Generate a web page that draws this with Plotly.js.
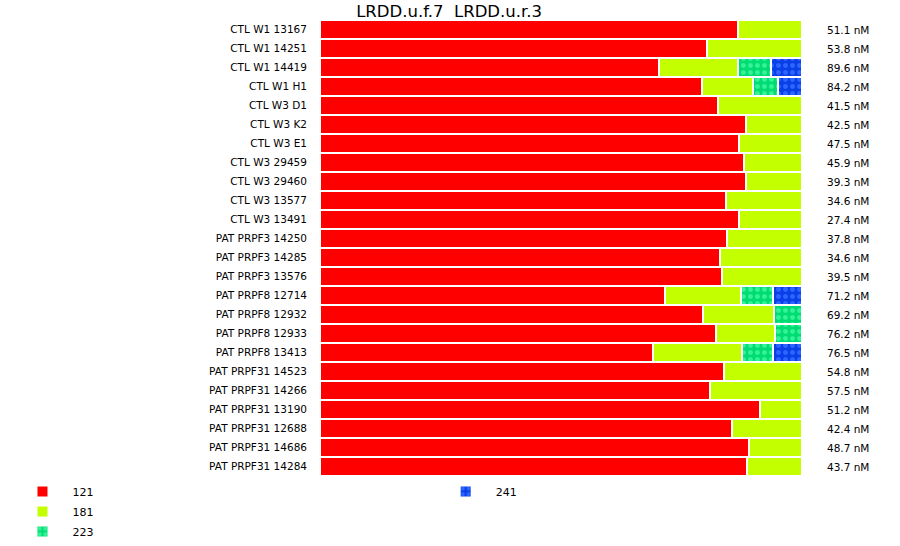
<!DOCTYPE html>
<html>
<head>
<meta charset="utf-8">
<script src="https://cdn.plot.ly/plotly-3.0.1.min.js"></script>
<style>html,body{margin:0;padding:0;background:#fff;}#chart{width:900px;height:546px;}</style>
</head>
<body>
<div id="chart"></div>
<script>
// Sample names (top to bottom)
const samples = [
  "CTL W1 13167", "CTL W1 14251", "CTL W1 14419", "CTL W1 H1", "CTL W3 D1", "CTL W3 K2",
  "CTL W3 E1", "CTL W3 29459", "CTL W3 29460", "CTL W3 13577", "CTL W3 13491",
  "PAT PRPF3 14250", "PAT PRPF3 14285", "PAT PRPF3 13576",
  "PAT PRPF8 12714", "PAT PRPF8 12932", "PAT PRPF8 12933", "PAT PRPF8 13413",
  "PAT PRPF31 14523", "PAT PRPF31 14266", "PAT PRPF31 13190", "PAT PRPF31 12688",
  "PAT PRPF31 14686", "PAT PRPF31 14284"
];
// Concentration labels (right side)
const concentrations = [
  "51.1 nM", "53.8 nM", "89.6 nM", "84.2 nM", "41.5 nM", "42.5 nM",
  "47.5 nM", "45.9 nM", "39.3 nM", "34.6 nM", "27.4 nM",
  "37.8 nM", "34.6 nM", "39.5 nM",
  "71.2 nM", "69.2 nM", "76.2 nM", "76.5 nM",
  "54.8 nM", "57.5 nM", "51.2 nM", "42.4 nM", "48.7 nM", "43.7 nM"
];
// Fragment size series (percent of total)
const seriesNames = ["121", "181", "223", "241"];
const v121 = [86.7, 80.3, 70.3, 79.3, 82.6, 88.4, 86.9, 88.0, 88.4, 84.2, 86.9,
              84.4, 83.0, 83.4, 71.6, 79.5, 82.2, 69.1, 83.8, 80.9, 91.3, 85.5, 89.0, 88.6];
const v181 = [13.3, 19.7, 16.4, 10.6, 17.4, 11.6, 13.1, 12.0, 11.6, 15.8, 13.1,
              15.6, 17.0, 16.6, 15.8, 14.7, 12.2, 18.5, 16.2, 19.1, 8.7, 14.5, 11.0, 11.4];
const v223 = [0, 0, 6.8, 5.2, 0, 0, 0, 0, 0, 0, 0,
              0, 0, 0, 6.6, 5.8, 5.6, 6.4, 0, 0, 0, 0, 0, 0];
const v241 = [0, 0, 6.5, 4.9, 0, 0, 0, 0, 0, 0, 0,
              0, 0, 0, 6.0, 0, 0, 6.0, 0, 0, 0, 0, 0, 0];

const values = [v121, v181, v223, v241];
const colors = ["#ff0000", "#c4ff00", "#00dc74", "#0a3ee6"];
const patternFg = [null, null, "#34f296", "#2a66ff"];

const traces = seriesNames.map((name, i) => {
  const marker = { color: colors[i], line: { color: "#ffffff", width: 2 } };
  if (patternFg[i]) {
    marker.pattern = { shape: ".", bgcolor: colors[i], fgcolor: patternFg[i], size: 7, solidity: 0.4, fillmode: "replace" };
  }
  return {
    type: "bar", orientation: "h", name: name,
    y: samples, x: values[i], marker: marker,
    legend: i < 3 ? "legend" : "legend2",
    legendgroup: "g" + name,
    hoverinfo: "x+y+name"
  };
});

const annotations = samples.map((s, i) => ({
  xref: "paper", yref: "y", x: 1.1432, y: s, xanchor: "right", yanchor: "middle",
  text: concentrations[i], showarrow: false,
  font: { family: "DejaVu Sans", size: 10.5, color: "#000" }
}));

const layout = {
  width: 900, height: 546,
  margin: { l: 320, r: 98, t: 20, b: 70, autoexpand: false },
  paper_bgcolor: "#fff", plot_bgcolor: "#fff",
  barmode: "stack", bargap: 0,
  font: { family: "DejaVu Sans", size: 10.5, color: "#000" },
  title: { text: "LRDD.u.f.7  LRDD.u.r.3", x: 0.499, xref: "container", y: 0.98, yref: "container",
           yanchor: "middle", xanchor: "center", font: { family: "DejaVu Sans", size: 16.5, color: "#000" } },
  xaxis: { range: [0, 100], visible: false, fixedrange: true },
  yaxis: { autorange: "reversed", showgrid: false, zeroline: false, showline: false, ticks: "",
           ticklabelstandoff: 12, tickfont: { family: "DejaVu Sans", size: 10.5, color: "#000" }, fixedrange: true },
  showlegend: true,
  legend: { x: -0.638, y: -0.002, xanchor: "left", yanchor: "top", orientation: "v", itemwidth: 50,
            tracegroupgap: 1, traceorder: "grouped",
            bgcolor: "rgba(0,0,0,0)", font: { family: "DejaVu Sans", size: 11 }, itemclick: false },
  legend2: { x: 0.240, y: -0.002, xanchor: "left", yanchor: "top", orientation: "v", itemwidth: 50,
             bgcolor: "rgba(0,0,0,0)", font: { family: "DejaVu Sans", size: 11 }, itemclick: false },
  annotations: annotations
};

Plotly.newPlot("chart", traces, layout, { displayModeBar: false, staticPlot: true });
</script>
</body>
</html>
